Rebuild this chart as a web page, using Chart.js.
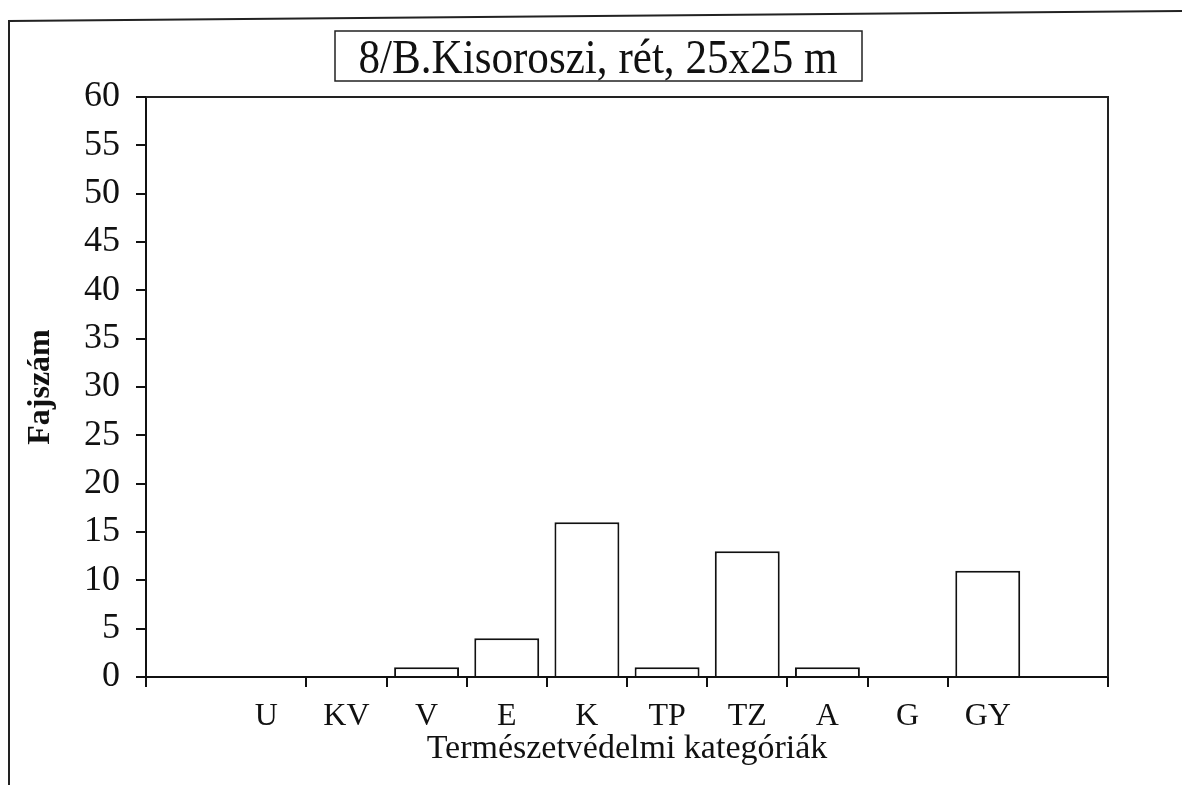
<!DOCTYPE html>
<html>
<head>
<meta charset="utf-8">
<title>8/B.Kisoroszi, rét</title>
<script src="https://cdn.jsdelivr.net/npm/chart.js@4/dist/chart.umd.min.js"></script>
<style>
    html, body { margin: 0; padding: 0; background: #fff; }
    canvas { display: block; }
</style>
</head>
<body>
<canvas id="myChartCanvas" width="1182" height="785"></canvas>
<script>
// empty slot at both ends, like on the original sheet
const categories = ['', 'U', 'KV', 'V', 'E', 'K', 'TP', 'TZ', 'A', 'G', 'GY', ''];
const fajszam = [null, 0, 0, 1, 4, 16, 1, 13, 1, 0, 11, null];
const yTicks = [0, 5, 10, 15, 20, 25, 30, 35, 40, 45, 50, 55, 60];

const chartTitle = '8/B.Kisoroszi, rét, 25x25 m';
const xTitle = 'Természetvédelmi kategóriák';
const yTitle = 'Fajszám';

const serif = "'Liberation Serif', 'DejaVu Serif', serif";

// frame of the scanned sheet + boxed title + top/right edge of the plot
const framePlugin = {
    id: 'frame',
    afterDraw(chart) {
        const ctx = chart.ctx;
        const area = chart.chartArea;
        ctx.save();
        ctx.strokeStyle = '#222';
        ctx.lineWidth = 2;

        ctx.beginPath();
        ctx.moveTo(9, 785);
        ctx.lineTo(9, 21);
        ctx.lineTo(1182, 11);
        ctx.stroke();

        ctx.beginPath();
        ctx.moveTo(area.left, area.top);
        ctx.lineTo(area.right, area.top);
        ctx.lineTo(area.right, area.bottom);
        ctx.stroke();

        ctx.lineWidth = 1.5;
        ctx.strokeRect(335, 31, 527, 50);

        // the original lettering is tall and narrow
        ctx.translate(598, 73);
        ctx.scale(0.88, 1);
        ctx.fillStyle = '#111';
        ctx.font = '49px ' + serif;
        ctx.textAlign = 'center';
        ctx.textBaseline = 'alphabetic';
        ctx.fillText(chartTitle, 0, 0);
        ctx.restore();
    }
};

const ctx = document.getElementById('myChartCanvas').getContext('2d');
new Chart(ctx, {
    type: 'bar',
    data: {
        labels: categories,
        datasets: [{
            label: yTitle,
            data: fajszam,
            backgroundColor: '#fff',
            borderColor: '#111',
            borderWidth: 2,
            barPercentage: 0.81,
            categoryPercentage: 1
        }]
    },
    options: {
        responsive: false,
        animation: false,
        layout: {
            padding: { left: 20, right: 74, top: 97, bottom: 0 }
        },
        plugins: {
            legend: { display: false },
            tooltip: { enabled: false }
        },
        scales: {
            x: {
                afterFit: (scale) => { scale.height = 108; },
                grid: {
                    offset: true,
                    drawOnChartArea: false,
                    tickLength: 10,
                    lineWidth: 2,
                    color: (c) => (c.index === 1 || c.index === 11) ? 'rgba(0,0,0,0)' : '#111'
                },
                border: { color: '#111', width: 2 },
                ticks: {
                    autoSkip: false,
                    maxRotation: 0,
                    padding: 10,
                    color: '#111',
                    font: { family: serif, size: 32 }
                },
                title: {
                    display: true,
                    text: xTitle,
                    color: '#111',
                    font: { family: serif, size: 34 },
                    padding: { top: 0, bottom: 16 }
                }
            },
            y: {
                min: 0,
                max: 60,
                afterFit: (scale) => { scale.width = 126; },
                afterBuildTicks: (scale) => {
                    scale.ticks = yTicks.map(v => ({ value: v }));
                },
                grid: {
                    drawOnChartArea: false,
                    tickLength: 10,
                    lineWidth: 2,
                    color: '#111'
                },
                border: { color: '#111', width: 2 },
                ticks: {
                    padding: 16,
                    color: '#111',
                    font: { family: serif, size: 36 }
                },
                title: {
                    display: true,
                    text: yTitle,
                    color: '#111',
                    font: { family: serif, size: 32, weight: 'bold' },
                    padding: { top: 2, bottom: 0 }
                }
            }
        }
    },
    plugins: [framePlugin]
});
</script>
</body>
</html>
